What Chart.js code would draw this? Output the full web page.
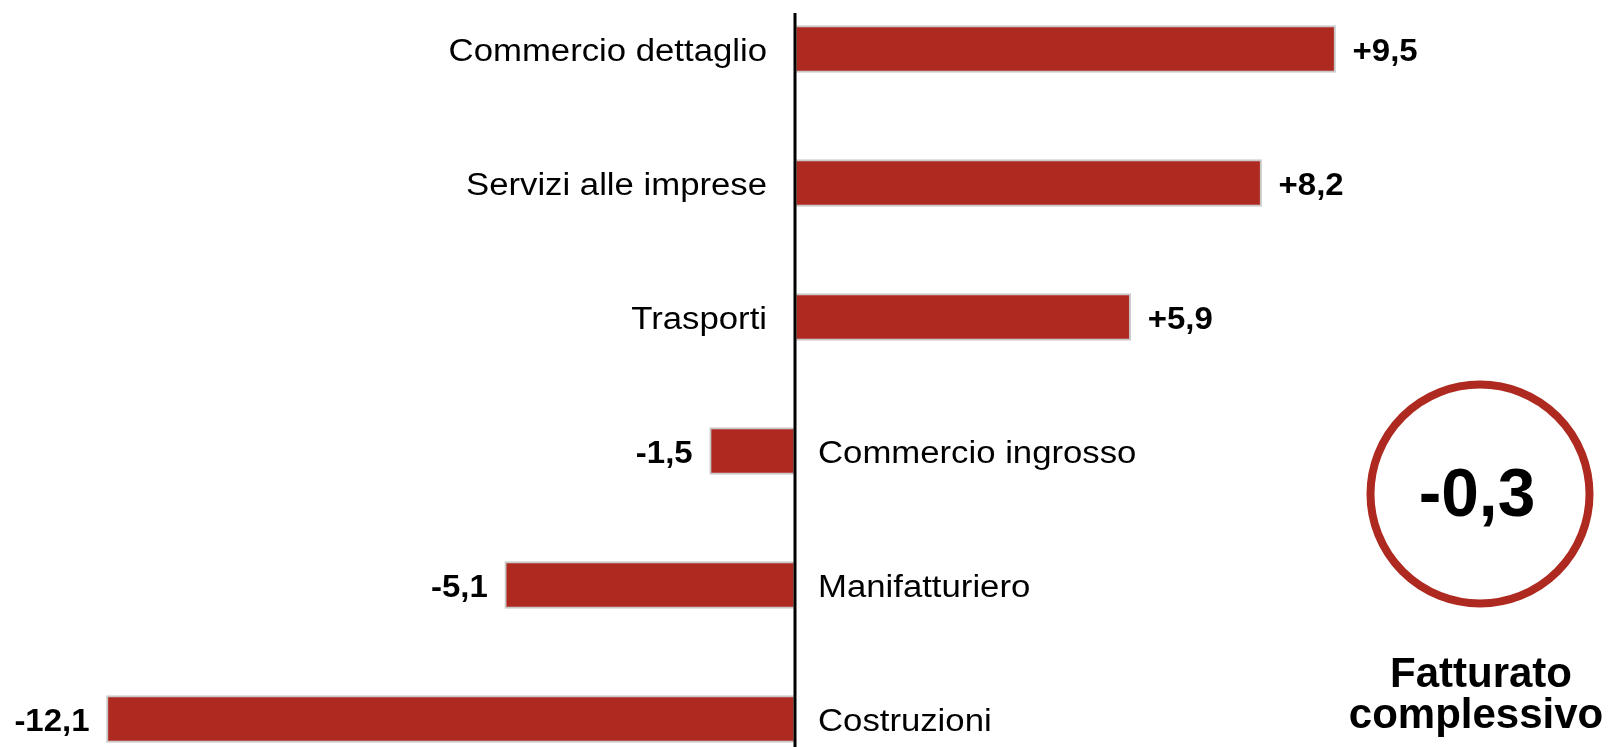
<!DOCTYPE html>
<html>
<head>
<meta charset="utf-8">
<script src="https://cdn.jsdelivr.net/npm/chart.js@4.4.0/dist/chart.umd.min.js"></script>
<style>
  html, body { margin: 0; padding: 0; background: #fff; overflow: hidden; }
  .wrap { position: absolute; left: 0; top: -18px; width: 1608px; height: 804px; }
</style>
</head>
<body>
<div class="wrap"><canvas id="chart"></canvas></div>
<script>
// data
const categories = ['Commercio dettaglio', 'Servizi alle imprese', 'Trasporti', 'Commercio ingrosso', 'Manifatturiero', 'Costruzioni'];
const values = [9.5, 8.2, 5.9, -1.5, -5.1, -12.1];
const totalValue = -0.3;
const totalLabel = ['Fatturato', 'complessivo'];

const red = '#ae291f';
const fontFam = '"Liberation Sans", Arial, sans-serif';

function fmt(v) {
  let s = Math.abs(v).toFixed(1).replace('.', ',');
  return (v > 0 ? '+' : '-') + s;
}

// text is a bit wide in the original, so stretch it a little
function stretchText(ctx, txt, x, y, align, font, sx) {
  ctx.save();
  ctx.font = font;
  ctx.textAlign = align;
  ctx.textBaseline = 'middle';
  ctx.fillStyle = '#000';
  ctx.translate(x, y);
  ctx.scale(sx, 1);
  ctx.fillText(txt, 0, 0);
  ctx.restore();
}

const extras = {
  id: 'extras',
  afterDatasetsDraw(chart) {
    const ctx = chart.ctx;
    const xs = chart.scales.x;
    const meta = chart.getDatasetMeta(0);
    const x0 = xs.getPixelForValue(0);

    // zero line
    ctx.save();
    ctx.strokeStyle = '#000';
    ctx.lineWidth = 3;
    ctx.beginPath();
    ctx.moveTo(x0, 31);
    ctx.lineTo(x0, chart.height);
    ctx.stroke();
    ctx.restore();

    meta.data.forEach((bar, i) => {
      const v = values[i];
      const y = bar.y + 3;
      if (v >= 0) {
        stretchText(ctx, categories[i], x0 - 28, y, 'right', '31px ' + fontFam, 1.12);
        stretchText(ctx, fmt(v), bar.x + 17, y, 'left', 'bold 32px ' + fontFam, 1.03);
      } else {
        stretchText(ctx, categories[i], x0 + 23, y, 'left', '31px ' + fontFam, 1.12);
        stretchText(ctx, fmt(v), bar.x - 17, y, 'right', 'bold 32px ' + fontFam, 1.03);
      }
    });

    // total circle (page y + 18 because the canvas is shifted up)
    const cx = 1480, cy = 494 + 18;
    ctx.save();
    ctx.strokeStyle = red;
    ctx.lineWidth = 8;
    ctx.beginPath();
    ctx.arc(cx, cy, 109.5, 0, Math.PI * 2);
    ctx.stroke();
    ctx.restore();
    stretchText(ctx, fmt(totalValue), cx - 3, cy + 3, 'center', 'bold 69px ' + fontFam, 0.98);

    ctx.save();
    ctx.font = 'bold 42px ' + fontFam;
    ctx.textAlign = 'center';
    ctx.textBaseline = 'alphabetic';
    ctx.fillStyle = '#000';
    ctx.fillText(totalLabel[0], 1481, 687 + 18);
    ctx.fillText(totalLabel[1], 1476, 728 + 18);
    ctx.restore();
  }
};

new Chart(document.getElementById('chart'), {
  type: 'bar',
  data: {
    labels: categories,
    datasets: [{
      data: values,
      backgroundColor: red,
      borderColor: '#c8c8c8',
      borderWidth: 2,
      borderSkipped: false,
      barThickness: 47
    }]
  },
  options: {
    indexAxis: 'y',
    responsive: true,
    maintainAspectRatio: false,
    animation: false,
    layout: { padding: 0 },
    plugins: { legend: { display: false }, tooltip: { enabled: false } },
    scales: {
      x: { display: false, min: -795 / 56.9, max: 813 / 56.9 },
      y: { display: false }
    }
  },
  plugins: [extras]
});
</script>
</body>
</html>
